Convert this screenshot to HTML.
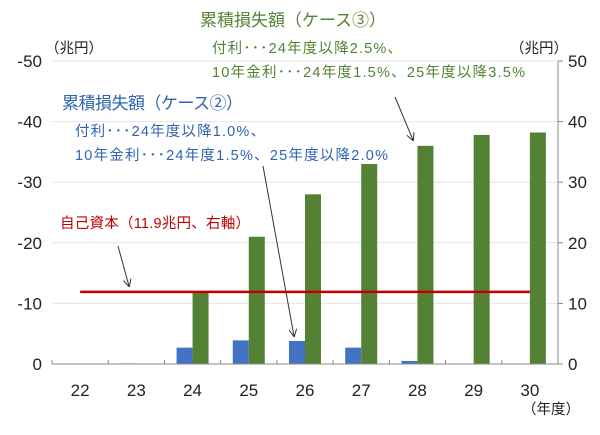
<!DOCTYPE html>
<html><head><meta charset="utf-8"><style>
body{margin:0;background:#fff;}
svg text{font-family:"Liberation Sans","Noto Sans CJK JP",sans-serif;}
</style></head><body>
<svg id="c" width="600" height="430" viewBox="0 0 600 430">
<defs><marker id="ah" markerWidth="8" markerHeight="8" refX="7" refY="4" orient="auto"><path d="M0,0 L8,4 L0,8" fill="none" stroke="#333" stroke-width="1"/></marker></defs>
<g id="grid"></g><g id="bars"></g><g id="axes"></g>
<text x="200" y="26" font-size="17" fill="#548235" textLength="186">累積損失額（ケース③）</text>
<text x="212" y="53" font-size="14.5" fill="#548235" textLength="190">付利･･･24年度以降2.5%、</text>
<text x="212" y="77" font-size="14.5" fill="#548235" textLength="313">10年金利･･･24年度1.5%、25年度以降3.5%</text>
<text x="62" y="109" font-size="17" fill="#2E64B0" textLength="181">累積損失額（ケース②）</text>
<text x="75" y="136" font-size="14.5" fill="#2E64B0" textLength="190">付利･･･24年度以降1.0%、</text>
<text x="75" y="160" font-size="14.5" fill="#2E64B0" textLength="313">10年金利･･･24年度1.5%、25年度以降2.0%</text>
<text x="60" y="228" font-size="14.5" fill="#C00000" textLength="190">自己資本（11.9兆円、右軸）</text>
<text x="45" y="53" font-size="14.5" fill="#222">（兆円）</text>
<text x="510" y="53" font-size="14.5" fill="#222">（兆円）</text>
<text x="522" y="414" font-size="14.5" fill="#222">（年度）</text>
<line x1="395" y1="97" x2="413" y2="140" stroke="#333" stroke-width="1" marker-end="url(#ah)"/>
<line x1="263" y1="166" x2="294" y2="336" stroke="#333" stroke-width="1" marker-end="url(#ah)"/>
<line x1="118" y1="246" x2="129" y2="286" stroke="#333" stroke-width="1" marker-end="url(#ah)"/>
</svg>
<script>
const categories=["22","23","24","25","26","27","28","29","30"];
const case2=[0,0.1,2.7,3.9,3.8,2.7,0.5,0.05,0.05];
const case3=[0,0,12,21,28,33,36,37.8,38.2];
const equity=11.9;
const leftTicks=["-50","-40","-30","-20","-10","0"];
const rightTicks=["50","40","30","20","10","0"];
const tickVals=[50,40,30,20,10,0];
const L=52,R=558,T=61,B=364,ymax=50;
const cw=(R-L)/categories.length;
const y=v=>B-(v/ymax)*(B-T);
const xc=i=>L+cw*(i+0.5);
const ns="http://www.w3.org/2000/svg";
function mk(tag,attrs,parent){const e=document.createElementNS(ns,tag);for(const k in attrs)e.setAttribute(k,attrs[k]);document.getElementById(parent).appendChild(e);return e;}
tickVals.forEach((v,i)=>{
 if(v>0){const g=mk('line',{x1:L,x2:R,y1:y(v),y2:y(v),stroke:'#e4e4e4','stroke-width':1},'grid');
 
 }
 const t1=mk('text',{x:L-10,y:y(v)+6,'text-anchor':'end','font-size':17,fill:'#222'},'axes');t1.textContent=leftTicks[i];
 
 
 const t2=mk('text',{x:R+10,y:y(v)+6,'font-size':17,fill:'#222'},'axes');t2.textContent=rightTicks[i];
 
 
 const tk=mk('line',{x1:R,x2:R+5,y1:y(v),y2:y(v),stroke:'#888'},'axes');
 
 
});
const bw=16;
categories.forEach((c,i)=>{
 const b=mk('rect',{x:xc(i)-bw,y:y(case2[i]),width:bw,height:B-y(case2[i]),fill:'#4472C4'},'bars');
 
 
 const g=mk('rect',{x:xc(i),y:y(case3[i]),width:bw,height:B-y(case3[i]),fill:'#548235'},'bars');
 
 
 const t=mk('text',{x:xc(i),y:B+32,'text-anchor':'middle','font-size':17,fill:'#222'},'axes');t.textContent=c;
 
 
 const tk=mk('line',{x1:L+cw*i,x2:L+cw*i,y1:B,y2:B-4,stroke:'#888'},'axes');
 
 
});
const el=mk('line',{x1:xc(0),x2:xc(categories.length-1),y1:y(equity),y2:y(equity),stroke:'#C00000','stroke-width':2.5},'bars');


const ax=mk('line',{x1:L,x2:R,y1:B,y2:B,stroke:'#888'},'axes');


const ra=mk('line',{x1:R,x2:R,y1:T,y2:B,stroke:'#888'},'axes');


</script>
</body></html>
